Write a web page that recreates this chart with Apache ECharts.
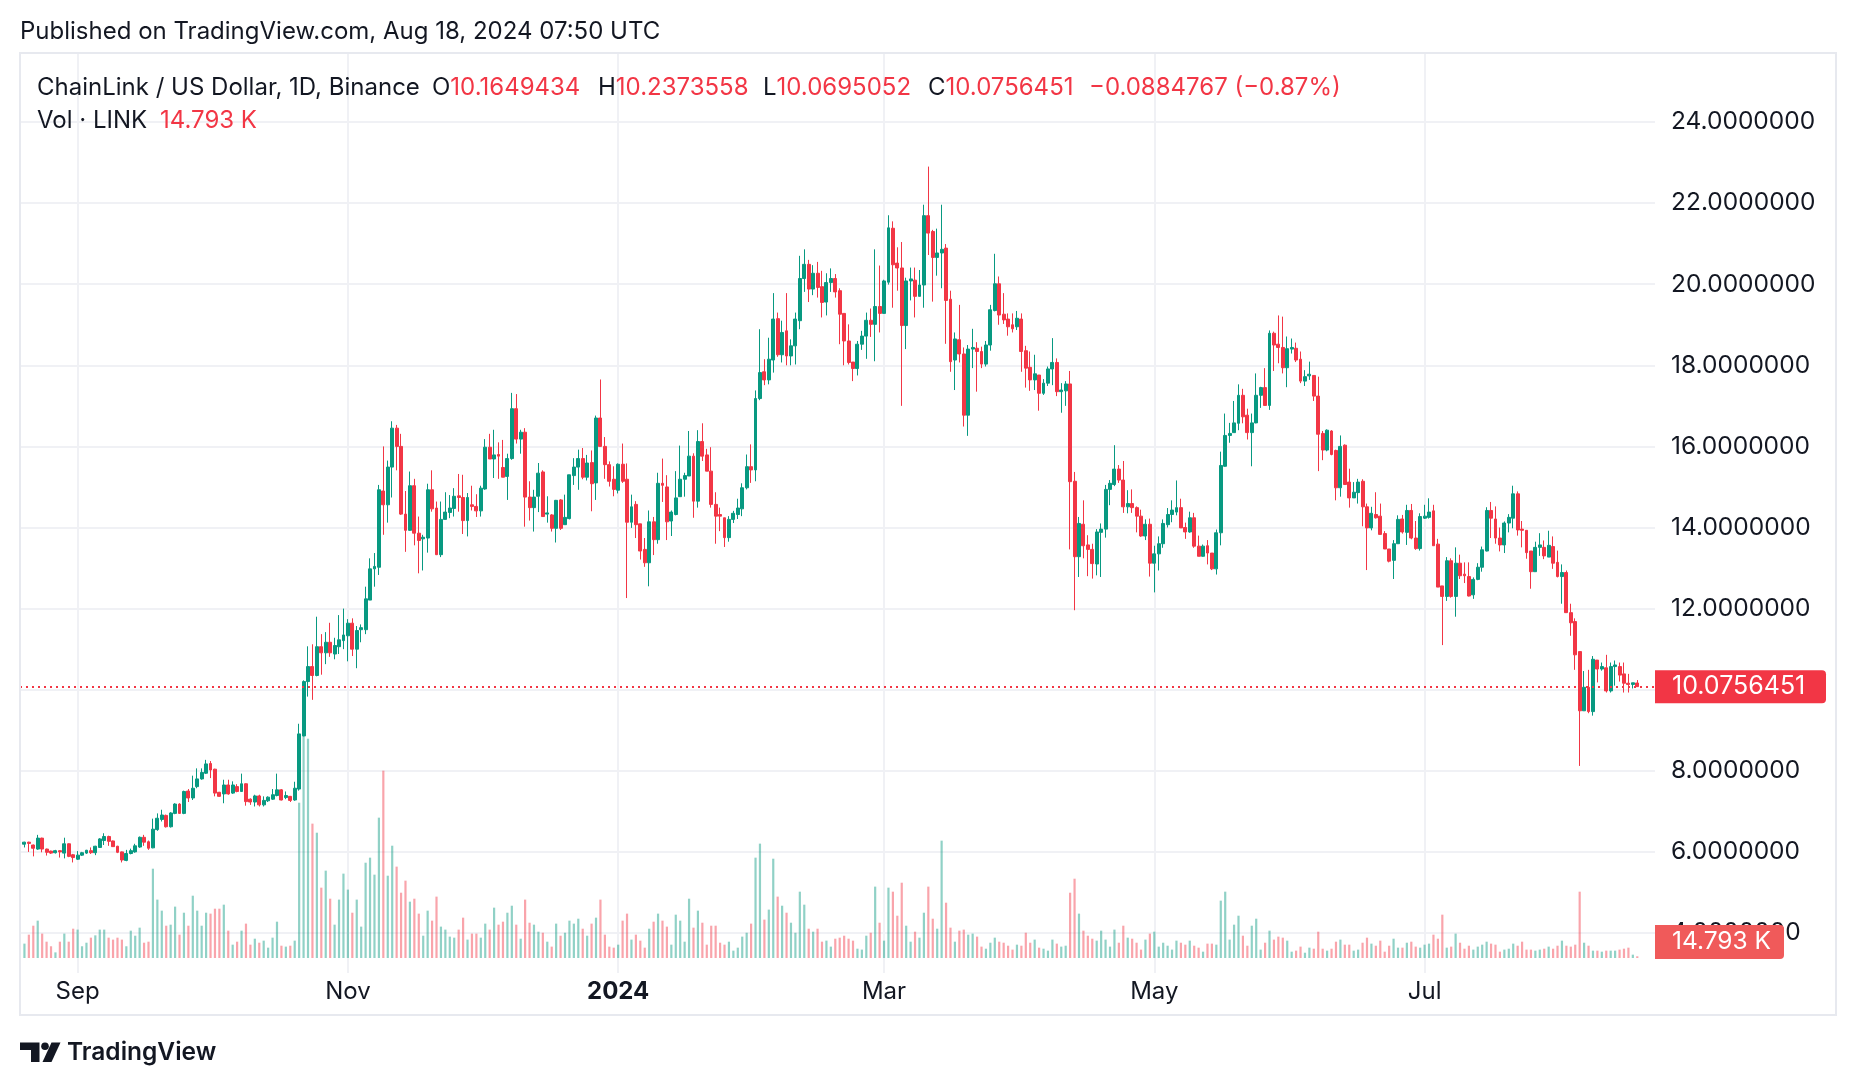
<!DOCTYPE html>
<html>
<head>
<meta charset="utf-8">
<script src="https://cdn.jsdelivr.net/npm/echarts@6/dist/echarts.min.js"></script>
<style>
html,body{margin:0;padding:0;background:#ffffff;}
#chart{width:1856px;height:1086px;}
</style>
</head>
<body>
<div id="chart"></div>
<script>
// ---------- DATA (daily candles, 2023-08-20 .. 2024-08-18) ----------
const firstDate = '2023-08-20';
const opens = [
6.19,6.24,6.17,6.07,6.34,6.07,6.02,5.98,6.03,5.97,
6.20,5.93,5.82,5.92,5.97,6.03,5.98,6.11,6.28,6.38,
6.27,6.14,6.00,5.79,5.96,6.00,6.12,6.36,6.25,6.10,
6.55,6.80,6.90,6.62,6.95,7.18,6.95,7.50,7.33,7.61,
7.80,7.94,8.18,8.04,7.47,7.43,7.65,7.45,7.61,7.49,
7.68,7.30,7.23,7.38,7.16,7.26,7.30,7.39,7.53,7.34,
7.37,7.28,7.55,8.86,10.20,10.57,10.35,11.06,10.91,11.17,
10.88,11.06,11.21,11.33,11.64,11.00,11.48,11.48,12.21,12.98,
13.02,14.90,14.56,15.49,16.45,16.00,14.33,13.93,15.03,13.86,
13.72,13.74,14.93,14.48,13.33,14.20,14.37,14.47,14.78,14.74,
14.17,14.56,14.52,14.41,14.95,15.98,15.69,15.80,15.48,15.26,
15.70,16.93,16.18,16.35,14.75,14.49,14.77,15.37,14.33,14.31,
13.98,14.68,14.07,14.22,15.28,15.49,15.70,15.24,15.60,15.10,
16.70,16.00,15.55,15.19,14.92,15.56,15.19,14.13,14.57,14.09,
13.46,13.13,14.14,13.70,15.09,15.00,14.16,14.32,14.76,15.19,
15.27,15.76,14.65,16.12,15.79,15.39,14.57,14.32,14.24,13.75,
14.20,14.32,14.46,14.98,15.50,15.42,17.18,17.84,17.64,18.13,
19.15,18.26,18.85,18.23,18.48,19.10,20.14,20.49,19.88,20.27,
19.94,19.56,20.04,20.14,19.84,19.28,18.60,18.08,17.92,18.52,
18.72,19.11,19.01,19.45,19.28,20.05,21.38,20.52,20.40,18.98,
20.08,20.10,19.70,19.98,21.69,21.30,20.66,20.77,20.89,19.63,
18.13,18.63,18.28,16.77,18.40,18.42,18.34,18.03,18.50,19.35,
20.01,19.26,19.14,19.00,18.95,19.14,18.36,17.95,17.64,17.76,
17.31,17.56,17.91,18.07,17.35,17.37,17.54,15.14,13.28,14.08,
13.57,13.46,13.10,13.88,13.96,14.94,15.06,15.44,15.17,14.51,
14.59,14.49,14.28,13.79,14.08,13.12,13.35,13.60,14.07,14.32,
14.38,14.49,14.00,13.89,14.24,13.54,13.29,13.55,13.37,12.98,
13.87,15.51,16.27,16.34,16.57,17.26,16.77,16.34,16.58,17.26,
17.45,17.01,18.79,18.52,18.44,17.94,18.40,18.42,18.15,17.61,
17.74,17.75,17.24,16.32,15.91,16.38,15.90,14.98,16.03,15.12,
14.73,14.86,15.14,14.51,13.99,14.32,14.28,13.85,13.47,13.19,
13.60,14.21,13.88,14.42,13.74,13.48,14.23,14.25,14.41,13.59,
12.56,12.30,13.18,12.30,13.12,12.85,12.79,12.34,12.72,13.02,
13.42,14.42,14.21,13.74,13.57,14.11,14.23,14.83,13.96,13.93,
13.42,12.91,13.51,13.51,13.27,13.53,13.14,12.79,12.89,11.90,
11.68,10.94,9.48,10.06,9.46,10.73,10.51,10.54,9.97,10.57,
10.57,10.39,10.16,10.13,10.1649434
];
const closes = [
6.24,6.21,6.09,6.34,6.07,5.99,5.97,6.03,6.00,6.20,
5.89,5.86,5.92,5.98,6.04,5.98,6.14,6.32,6.38,6.26,
6.13,5.99,5.80,5.96,6.03,6.15,6.36,6.24,6.09,6.56,
6.83,6.91,6.62,6.96,7.18,6.95,7.49,7.33,7.57,7.80,
7.96,8.17,8.02,7.45,7.37,7.65,7.43,7.65,7.49,7.68,
7.24,7.23,7.38,7.16,7.27,7.35,7.41,7.53,7.28,7.39,
7.27,7.57,8.91,10.20,10.57,10.35,11.06,10.91,11.17,10.91,
11.09,11.23,11.35,11.64,11.00,11.46,11.53,12.24,12.98,13.04,
14.93,14.56,15.49,16.45,16.00,14.33,13.93,15.03,13.86,13.68,
13.76,14.93,14.46,13.33,14.20,14.38,14.48,14.77,14.74,14.17,
14.74,14.52,14.41,14.97,15.98,15.69,15.79,15.76,15.24,15.70,
16.93,16.18,16.35,14.75,14.49,14.75,15.34,14.27,14.36,13.98,
14.67,13.98,14.25,15.30,15.49,15.70,15.24,15.59,15.08,16.70,
16.00,15.55,15.14,14.94,15.56,15.14,14.13,14.51,14.07,13.42,
13.13,14.14,13.70,15.09,15.04,14.14,14.38,14.73,15.19,15.28,
15.76,14.65,16.12,15.76,15.39,14.57,14.28,14.28,13.75,14.20,
14.35,14.48,14.98,15.50,15.42,17.18,17.82,17.64,18.15,19.14,
18.26,18.81,18.23,18.48,19.14,20.14,20.49,19.88,20.27,19.92,
19.55,20.04,20.14,19.81,19.26,18.60,18.07,17.92,18.52,18.72,
19.11,19.01,19.45,19.28,20.08,21.39,20.48,20.40,18.98,20.08,
20.13,19.70,19.98,21.69,21.26,20.66,20.77,20.86,19.60,18.09,
18.65,18.28,16.77,18.40,18.44,18.34,18.03,18.50,19.37,20.01,
19.24,19.12,18.95,18.90,19.16,18.34,17.93,17.64,17.79,17.31,
17.56,17.91,18.07,17.35,17.39,17.54,15.13,13.28,14.10,13.55,
13.46,13.11,13.89,13.96,14.94,15.09,15.44,15.17,14.51,14.59,
14.49,14.28,13.79,14.08,13.12,13.35,13.60,14.10,14.32,14.43,
14.49,13.99,13.89,14.24,13.54,13.29,13.54,13.37,12.98,13.87,
15.53,16.27,16.32,16.58,17.26,16.73,16.34,16.58,17.26,17.45,
17.01,18.79,18.50,18.44,17.94,18.41,18.44,18.13,17.61,17.72,
17.78,17.24,16.30,15.91,16.40,15.80,14.98,16.00,15.06,14.73,
14.87,15.12,14.51,13.99,14.35,14.24,13.83,13.47,13.17,13.60,
14.20,13.89,14.42,13.74,13.48,14.27,14.28,14.38,13.55,12.53,
12.30,13.18,12.30,13.12,12.81,12.81,12.31,12.72,13.02,13.45,
14.42,14.23,13.74,13.57,14.11,14.25,14.83,13.94,13.93,13.38,
12.91,13.51,13.57,13.30,13.56,13.12,12.79,12.89,11.90,11.65,
10.86,9.48,10.06,9.46,10.75,10.51,10.57,9.97,10.57,10.61,
10.36,10.16,10.13,10.17,10.0756451
];
const lows = [
6.11,6.00,5.89,6.05,5.99,5.91,5.95,5.96,5.86,5.84,
5.87,5.74,5.80,5.90,5.95,5.95,5.92,6.10,6.17,6.15,
6.13,5.97,5.74,5.77,5.94,5.98,6.10,6.15,6.05,6.09,
6.52,6.75,6.60,6.60,6.93,6.94,6.93,7.23,7.28,7.57,
7.78,7.92,7.82,7.37,7.36,7.20,7.41,7.43,7.47,7.48,
7.14,7.16,7.12,7.12,7.12,7.23,7.28,7.37,7.27,7.30,
7.23,7.26,7.51,8.85,9.83,9.75,10.33,10.37,10.63,10.81,
10.75,10.88,11.00,10.70,10.83,10.53,11.17,11.37,12.21,12.54,
12.83,13.82,14.12,14.74,15.41,14.31,13.40,13.92,13.56,12.87,
12.94,13.38,14.39,13.32,13.27,14.20,14.23,14.27,14.39,13.84,
13.78,14.42,14.26,14.27,14.93,15.69,15.22,15.20,15.24,14.68,
15.67,16.07,15.82,14.02,14.17,13.90,14.38,14.27,14.12,13.90,
13.63,13.94,14.07,14.20,15.05,14.93,15.19,15.16,14.40,14.68,
16.00,15.20,15.01,14.77,14.84,15.10,12.26,13.99,13.74,13.21,
13.03,12.55,13.32,13.60,14.63,13.69,13.79,14.30,14.76,14.76,
15.27,14.24,14.49,15.64,15.39,14.49,13.60,13.91,13.52,13.65,
14.11,14.21,14.28,14.94,15.10,15.14,17.14,17.51,17.53,17.82,
18.21,18.07,18.00,18.00,18.02,18.89,19.81,19.56,19.73,19.67,
19.18,19.23,19.81,19.67,18.52,18.00,18.02,17.61,17.75,18.38,
18.16,18.70,18.10,18.81,19.28,19.99,19.42,19.84,17.00,18.40,
19.60,19.18,19.70,19.42,20.72,19.57,20.21,19.90,18.53,17.84,
17.39,18.07,16.49,16.26,17.93,17.35,17.93,17.97,18.36,19.33,
19.00,19.02,18.73,18.81,18.87,17.84,17.45,17.37,17.39,16.88,
17.27,17.49,17.51,17.24,16.83,17.00,13.46,11.96,12.78,13.24,
12.80,12.74,12.82,12.78,13.75,14.55,15.02,15.10,14.36,14.35,
14.36,13.88,13.77,13.69,12.79,12.40,12.94,13.50,14.00,14.13,
14.30,13.99,13.72,13.87,13.50,13.29,13.28,13.09,12.95,12.84,
13.56,15.50,16.09,16.34,16.40,16.57,16.17,15.51,16.57,16.95,
17.01,16.90,17.86,18.05,17.80,17.46,18.29,18.08,17.56,17.49,
17.64,17.12,15.39,15.66,15.88,15.78,14.67,14.76,15.05,14.49,
14.73,14.59,14.03,12.95,13.93,14.22,13.83,13.47,13.14,12.73,
13.60,13.85,13.57,13.71,13.45,13.43,14.21,14.22,13.55,12.53,
11.10,12.19,12.27,11.80,12.73,12.63,12.30,12.24,12.70,12.91,
13.41,13.74,13.60,13.41,13.37,13.88,13.98,13.80,13.51,13.23,
12.49,12.91,13.30,13.22,13.27,12.98,12.77,12.12,11.90,11.33,
10.49,8.12,9.48,9.42,9.36,10.18,10.47,9.93,9.93,10.10,
10.20,9.93,9.93,10.03,10.0695052
];
const highs = [
6.25,6.25,6.18,6.42,6.35,6.08,6.03,6.05,6.04,6.35,
6.21,5.95,6.02,6.00,6.05,6.11,6.15,6.34,6.46,6.40,
6.28,6.15,6.01,6.05,6.08,6.20,6.38,6.42,6.28,6.82,
6.95,7.04,6.92,6.98,7.20,7.20,7.51,7.55,7.88,8.06,
8.06,8.27,8.24,8.05,7.48,7.78,7.78,7.74,7.67,7.93,
7.69,7.32,7.41,7.41,7.37,7.37,7.55,7.93,7.55,7.49,
7.38,7.73,9.16,10.23,11.07,11.12,11.80,11.37,11.42,11.65,
11.28,11.84,12.00,11.74,11.76,11.57,11.61,12.54,13.24,13.37,
15.05,16.00,15.65,16.62,16.53,16.31,14.90,15.38,15.20,14.27,
13.82,15.08,15.41,14.64,14.64,14.87,14.80,14.97,15.32,15.30,
14.85,15.03,14.82,15.03,16.18,16.31,16.41,16.10,16.16,15.82,
17.32,17.29,16.41,16.45,15.14,14.93,15.59,15.41,14.77,14.33,
14.68,14.70,14.81,15.30,15.71,15.92,15.96,15.79,15.90,16.76,
17.65,16.23,15.63,15.51,15.58,16.07,15.58,14.81,14.65,14.09,
13.74,14.42,14.26,15.35,15.70,15.29,14.42,15.39,16.02,15.35,
16.38,15.83,16.40,16.57,15.94,15.98,14.87,14.49,14.24,14.28,
14.41,14.71,15.09,15.80,16.05,17.38,18.89,18.15,18.68,19.78,
19.30,19.10,19.78,18.64,19.30,20.70,20.86,20.60,20.47,20.55,
20.33,20.27,20.39,20.25,19.90,19.28,19.01,18.08,18.60,18.85,
19.30,19.40,20.86,20.46,20.11,21.70,21.55,20.91,21.04,20.16,
20.41,20.41,20.35,21.96,22.90,21.34,21.37,21.96,20.99,19.84,
18.81,19.49,18.44,18.50,18.90,18.57,18.46,18.60,19.49,20.75,
20.19,19.78,19.28,19.28,19.34,19.28,18.48,18.34,18.26,17.76,
17.66,17.97,18.67,18.17,17.56,17.61,17.86,15.37,14.26,14.67,
13.81,13.60,13.96,14.10,15.05,15.17,16.03,15.54,15.64,14.92,
14.94,14.52,14.44,14.20,14.22,13.55,13.78,14.20,14.48,14.67,
15.16,14.71,14.12,14.39,14.36,13.80,13.58,13.69,13.37,13.95,
15.87,16.81,16.58,17.12,17.53,17.42,16.93,16.81,17.80,17.47,
17.93,18.86,18.83,19.23,19.20,18.71,18.66,18.56,18.34,17.88,
18.09,17.75,17.72,16.38,16.42,16.40,15.92,16.27,16.05,15.45,
15.12,15.20,15.19,14.59,14.51,14.87,14.59,13.91,13.47,13.69,
14.30,14.31,14.56,14.58,14.16,14.35,14.56,14.72,14.56,13.72,
12.56,13.27,13.24,13.51,13.33,13.14,13.14,12.77,13.12,13.53,
14.50,14.63,14.52,14.00,14.15,14.33,15.03,14.89,14.16,13.93,
13.42,13.65,13.86,13.68,13.92,13.78,13.43,13.09,12.94,12.12,
11.76,10.94,10.46,10.49,10.83,10.73,10.67,10.86,10.67,10.72,
10.67,10.67,10.39,10.17,10.2373558
];
// volume in K LINK
const volumes = [
125,203,281,325,212,142,102,49,142,212,
142,255,247,102,133,177,197,247,247,177,
160,177,160,102,238,194,264,133,142,777,
508,412,281,290,447,203,394,281,542,412,
281,394,386,429,429,464,238,116,142,238,
299,116,168,133,151,90,177,316,107,99,
107,151,1351,1934,1908,1169,1090,612,760,516,
290,508,734,595,394,508,273,829,873,725,
1221,1630,716,977,795,568,673,490,516,386,
194,412,325,534,273,247,186,177,247,351,
160,212,212,177,299,247,438,290,316,394,
455,290,168,508,307,290,229,220,142,99,
299,194,220,325,299,342,255,194,299,351,
508,203,99,90,116,325,386,160,203,151,
90,255,316,386,325,273,116,377,325,142,
516,264,412,307,116,281,281,133,116,142,
64,90,186,220,299,873,995,334,421,864,
534,455,394,307,220,577,464,255,229,255,
142,151,99,168,177,194,168,151,81,73,
194,220,621,307,151,612,577,368,655,281,
142,229,177,394,621,342,255,1021,481,264,
142,238,247,203,212,186,99,81,133,177,
142,133,107,73,116,107,220,133,160,90,
81,64,160,125,99,107,568,690,386,238,
194,168,151,238,160,99,247,133,281,177,
168,133,73,160,212,229,99,133,107,73,
151,133,116,151,107,90,55,125,125,116,
499,577,160,290,368,194,107,281,342,73,
133,238,160,186,177,151,55,64,99,46,
90,81,229,81,64,81,142,160,116,116,
64,73,133,177,125,107,151,55,107,168,
90,90,133,142,99,90,116,125,203,168,
377,90,99,212,133,81,107,73,99,116,
142,125,116,55,73,81,125,107,142,73,
73,64,73,81,99,81,107,151,107,99,
116,577,133,107,64,64,55,64,64,64,
73,81,90,29,14.793
];
const timeTickDates  = ['2023-09-01','2023-11-01','2024-01-01','2024-03-01','2024-05-01','2024-07-01'];
const timeTickLabels = ['Sep','Nov','2024','Mar','May','Jul'];
const priceTicks = [4,6,8,10,12,14,16,18,20,22,24];

// ---------- BUILD ----------
const FONT = 'Inter, "Noto Sans", Roboto, sans-serif';
const TXT = '#131722';
const UP = '#089981', DN = '#F23645';
const VOL_UP = 'rgba(8,153,129,0.45)', VOL_DN = 'rgba(242,54,69,0.45)';
const FS = 24;

// category axis: one blank day before, 4 blank days after
const categories = [];
(function(){
  const t0 = Date.parse(firstDate + 'T00:00:00Z') - 864e5;
  for (let k = 0; k < opens.length + 5; k++) categories.push(new Date(t0 + k * 864e5).toISOString().slice(0, 10));
})();
const OFF = 1;
const candleData = categories.map((_, k) => {
  const i = k - OFF;
  return (i >= 0 && i < opens.length) ? [opens[i], closes[i], lows[i], highs[i]] : '-';
});
const volData = categories.map((_, k) => {
  const i = k - OFF;
  if (i < 0 || i >= volumes.length) return '-';
  return { value: volumes[i], itemStyle: { color: closes[i] >= opens[i] ? VOL_UP : VOL_DN } };
});
const last = opens.length - 1;
const lastClose = closes[last];
const fmt7 = v => v.toFixed(7);

const chart = echarts.init(document.getElementById('chart'), null, { renderer: 'canvas' });

const option = {
  animation: false,
  backgroundColor: '#ffffff',
  textStyle: { fontFamily: FONT },
  grid: [
    { left: 20, right: 201, top: 40.9, bottom: 71.9 },
    { left: 20, right: 201, top: 53, bottom: 113 }
  ],
  xAxis: [
    { type: 'category', gridIndex: 0, data: categories, boundaryGap: false,
      axisLine: { show: false }, axisTick: { show: false }, axisLabel: { show: false }, splitLine: { show: false } },
    { type: 'category', gridIndex: 1, data: categories, boundaryGap: false,
      axisLine: { show: false }, axisTick: { show: false },
      axisLabel: {
        interval: (i, v) => timeTickDates.indexOf(v) >= 0,
        formatter: v => { const j = timeTickDates.indexOf(v); return j === 2 ? '{b|' + timeTickLabels[j] + '}' : timeTickLabels[j]; },
        fontSize: FS, color: TXT, fontFamily: FONT, margin: 7,
        rich: { b: { fontWeight: 'bold', fontSize: FS, color: TXT, fontFamily: FONT } }
      },
      splitLine: { show: true, interval: (i, v) => timeTickDates.indexOf(v) >= 0, lineStyle: { color: '#f0f1f5', width: 2 } }
    }
  ],
  yAxis: [
    { type: 'value', gridIndex: 0, position: 'right', min: 2, max: 26, interval: 2,
      axisLine: { show: false }, axisTick: { show: false },
      axisLabel: { margin: 16, fontSize: 24.5, color: TXT, fontFamily: FONT,
        formatter: v => (priceTicks.indexOf(v) >= 0 && v !== 10) ? fmt7(v) : '' },
      splitLine: { show: true, showMinLine: false, showMaxLine: false, lineStyle: { color: '#f0f1f5', width: 2 } }
    },
    { type: 'value', gridIndex: 1, min: -130.5, max: 7873.5, show: false }
  ],
  series: [
    { type: 'bar', name: 'Vol', xAxisIndex: 1, yAxisIndex: 1, data: volData, barWidth: 2.2, z: 1, silent: true },
    { type: 'candlestick', name: 'LINKUSD', xAxisIndex: 0, yAxisIndex: 0, data: candleData, barWidth: 3.4, z: 3,
      itemStyle: { color: UP, color0: DN, borderColor: UP, borderColor0: DN, borderWidth: 1 },
      markLine: { silent: true, symbol: ['none', 'none'], label: { show: false },
        lineStyle: { color: DN, width: 2, type: [2, 4] }, data: [{ yAxis: lastClose }] }
    }
  ]
};
chart.setOption(option);

const yLast = chart.convertToPixel({ yAxisIndex: 0 }, lastClose);
const LY1 = 87.5, LY2 = 120.5;
const legendRich = { k: { fill: TXT, fontSize: FS, fontFamily: FONT }, v: { fill: DN, fontSize: FS, fontFamily: FONT } };
const ohlcItems = [
  ['O', opens[last], 432], ['H', highs[last], 598], ['L', lows[last], 763], ['C', closes[last], 928]
];
const LOGO_Y = 1042.5;
const graphics = [
  { type: 'text', x: 20, y: 32, style: { text: 'Published on TradingView.com, Aug 18, 2024 07:50 UTC', fontSize: FS, fontFamily: FONT, fill: TXT, verticalAlign: 'middle' } },
  { type: 'rect', shape: { x: 20, y: 53, width: 1816, height: 962 }, style: { fill: 'none', stroke: '#e7e9ef', lineWidth: 2 }, z: 50 },
  { type: 'text', x: 37, y: LY1, style: { text: 'ChainLink / US Dollar, 1D, Binance', fontSize: FS, fontFamily: FONT, fill: TXT, verticalAlign: 'middle' }, z: 60 },
  ...ohlcItems.map(([k, v, x]) => ({ type: 'text', x: x, y: LY1, z: 60,
    style: { text: '{k|' + k + '}{v|' + fmt7(v) + '}', rich: legendRich, verticalAlign: 'middle' } })),
  { type: 'text', x: 1089, y: LY1, z: 60, style: { text: '\u22120.0884767 (\u22120.87%)', fontSize: FS, fontFamily: FONT, fill: DN, verticalAlign: 'middle' } },
  { type: 'text', x: 37, y: LY2, z: 60, style: { text: 'Vol \u00b7 LINK', fontSize: FS, fontFamily: FONT, fill: TXT, verticalAlign: 'middle' } },
  { type: 'text', x: 160, y: LY2, z: 60, style: { text: '14.793 K', fontSize: FS, fontFamily: FONT, fill: DN, verticalAlign: 'middle' } },
  // last price label
  { type: 'rect', z: 100, shape: { x: 1655, y: yLast - 16.5, width: 171, height: 33, r: [0, 4, 4, 0] }, style: { fill: DN } },
  { type: 'text', z: 101, x: 1672, y: yLast, style: { text: fmt7(lastClose), fontSize: 25, fontFamily: FONT, fill: '#ffffff', verticalAlign: 'middle' } },
  // last volume label
  { type: 'rect', z: 100, shape: { x: 1655, y: 925, width: 129, height: 34, r: [0, 4, 4, 0] }, style: { fill: '#f05a5a' } },
  { type: 'text', z: 101, x: 1672, y: 942, style: { text: '14.793 K', fontSize: 24.5, fontFamily: FONT, fill: '#ffffff', verticalAlign: 'middle' } },
  // TradingView logo
  { type: 'polygon', z: 60, shape: { points: [[20, LOGO_Y], [39.5, LOGO_Y], [39.5, LOGO_Y + 19.5], [31, LOGO_Y + 19.5], [31, LOGO_Y + 7.5], [20, LOGO_Y + 7.5]] }, style: { fill: TXT } },
  { type: 'circle', z: 60, shape: { cx: 45, cy: LOGO_Y + 3.8, r: 3.8 }, style: { fill: TXT } },
  { type: 'polygon', z: 60, shape: { points: [[51.5, LOGO_Y], [60.5, LOGO_Y], [51.5, LOGO_Y + 19.5], [42.5, LOGO_Y + 19.5]] }, style: { fill: TXT } },
  { type: 'text', z: 60, x: 67, y: LOGO_Y + 10, style: { text: 'TradingView', fontSize: 24.5, fontWeight: 600, fontFamily: FONT, fill: TXT, verticalAlign: 'middle' } }
];
chart.setOption({ graphic: graphics });
</script>
</body>
</html>
